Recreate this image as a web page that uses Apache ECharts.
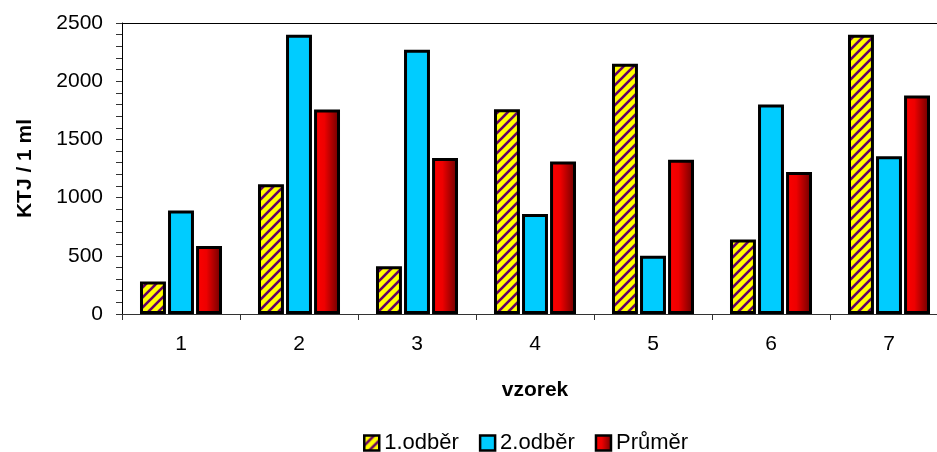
<!DOCTYPE html>
<html><head><meta charset="utf-8">
<script src="https://cdn.jsdelivr.net/npm/echarts@6/dist/echarts.min.js"></script>
<style>html,body{margin:0;padding:0;background:#fff;overflow:hidden;width:937px;height:452px}#c{width:950px;height:452px}</style>
</head><body><div id="c"></div>
<script>
const categories = ['1','2','3','4','5','6','7'];
const odber1 = [280, 1115, 410, 1760, 2150, 640, 2400];
const odber2 = [890, 2400, 2270, 860, 500, 1800, 1355];
const prumer = [585, 1757, 1340, 1310, 1325, 1220, 1877];
const seriesNames = ['1.odběr', '2.odběr', 'Průměr'];
const yTicks = {min: 0, max: 2500, interval: 500};

const pc = document.createElement('canvas');
pc.width = 10; pc.height = 10;
const g = pc.getContext('2d');
g.fillStyle = '#ffff00'; g.fillRect(0,0,10,10);
g.strokeStyle = '#660066'; g.lineWidth = 2.6; g.lineCap = 'square';
[[-10,10,10,-10],[0,10,10,0],[0,20,20,0]].forEach(l=>{g.beginPath();g.moveTo(l[0],l[1]);g.lineTo(l[2],l[3]);g.stroke();});
const pattern = {image: pc, repeat: 'repeat'};
const redGrad = new echarts.graphic.LinearGradient(0,0,1,0,[
  {offset:0,color:'#ff0000'},{offset:0.4,color:'#ee0000'},{offset:1,color:'#660000'}]);

const font = 'Liberation Sans, Arial, sans-serif';
const chart = echarts.init(document.getElementById('c'), null, {renderer:'canvas'});
const barStyle = c => ({color: c, borderColor: '#000', borderWidth: 3});
chart.setOption({
  animation: false,
  textStyle: {fontFamily: font},
  grid: {left: 122, top: 23, bottom: 138, right: 2, containLabel: false},
  legend: {
    left: 358, top: 427, itemWidth: 15, itemHeight: 15, itemGap: 20, icon: 'rect',
    itemStyle: {borderWidth: 2.5, borderColor: '#000'},
    textStyle: {fontSize: 22, color: '#000', fontFamily: font},
    data: seriesNames
  },
  xAxis: [{
    type: 'category', data: categories,
    name: 'vzorek', nameLocation: 'middle', nameGap: 66,
    nameTextStyle: {fontSize: 21, fontWeight: 'bold', color: '#000', fontFamily: font},
    axisLine: {lineStyle: {color: '#333', width: 1}},
    axisTick: {show: true, length: 6, lineStyle: {color: '#333'}},
    axisLabel: {fontSize: 21, color: '#000', margin: 20, fontFamily: font}
  }, {
    type: 'category', data: categories, position: 'top',
    axisLine: {show: true, onZero: false, lineStyle: {color: '#000', width: 1}},
    axisTick: {show: false}, axisLabel: {show: false}
  }],
  yAxis: {
    type: 'value', min: yTicks.min, max: yTicks.max, interval: yTicks.interval,
    name: 'KTJ / 1 ml', nameLocation: 'middle', nameGap: 86,
    nameTextStyle: {fontSize: 21, fontWeight: 'bold', color: '#000', fontFamily: font},
    axisLine: {show: true, lineStyle: {color: '#000', width: 1}},
    axisTick: {show: true, length: 6, lineStyle: {color: '#333'}},
    minorTick: {show: true, splitNumber: 5, length: 6, lineStyle: {color: '#333'}},
    splitLine: {show: false},
    axisLabel: {fontSize: 21, color: '#000', margin: 19, fontFamily: font, formatter: v => String(v)}
  },
  series: [
    {name: seriesNames[0], type: 'bar', data: odber1, itemStyle: barStyle(pattern), barGap: '8%', barCategoryGap: '30.5%'},
    {name: seriesNames[1], type: 'bar', data: odber2, itemStyle: barStyle('#00ccff')},
    {name: seriesNames[2], type: 'bar', data: prumer, itemStyle: barStyle(redGrad)}
  ]
});
</script></body></html>
